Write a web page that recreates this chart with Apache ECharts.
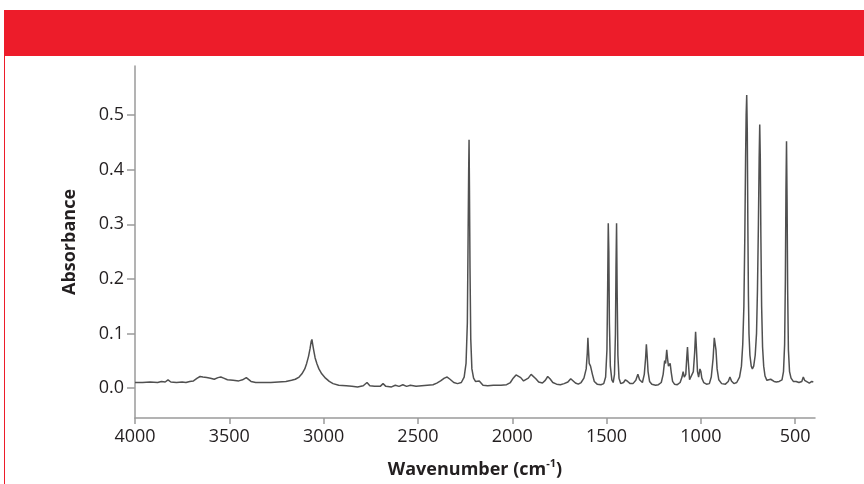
<!DOCTYPE html>
<html>
<head>
<meta charset="utf-8">
<script src="https://cdn.jsdelivr.net/npm/echarts@6/dist/echarts.min.js"></script>
<style>
html,body{margin:0;padding:0;background:#fff;}
#chart{width:864px;height:484px;}
</style>
</head>
<body>
<div id="chart"></div>
<script>
// Wavenumbers (cm-1)
const wavenumbers = [
 4000,3960,3920,3880,3860,3840,3825,3810,3780,3750,3730,3710,3690,3670,3655,3640,3620,3600,3580,3560,3545,3530,3510,3480,3450,3430,3410,3400,3385,3360,3320,3280,3240,3200,3170,3150,3130,3115,3100,3090,3080,3072,3066,3062,3058,3052,3045,3035,3025,3010,2990,2970,2950,2920,2880,2850,2820,2790,2770,2755,2730,2700,2685,2670,2640,2620,2600,2580,2560,2540,2510,2480,2450,2420,2400,2380,2360,2345,2330,2310,2290,2270,2255,2245,2238,2234,2231,2229,2227,2224,2220,2214,2205,2195,2185,2175,2168,2155,2130,2100,2060,2030,2010,1995,1980,1970,1955,1940,1930,1915,1900,1890,1875,1860,1840,1825,1812,1800,1785,1765,1745,1725,1705,1690,1680,1665,1650,1635,1620,1608,1602,1599,1596,1592,1585,1580,1575,1565,1550,1530,1515,1505,1498,1494,1491,1488,1485,1480,1472,1465,1458,1453,1450,1447,1444,1440,1434,1425,1410,1400,1388,1375,1360,1345,1334,1325,1310,1300,1293,1289,1285,1280,1272,1260,1240,1225,1210,1200,1192,1187,1181,1177,1172,1163,1157,1150,1140,1125,1110,1100,1094,1088,1080,1075,1071,1067,1060,1050,1040,1033,1028,1024,1018,1012,1005,1000,995,985,970,955,945,935,929,925,920,914,905,890,870,855,846,838,825,810,795,785,778,772,767,763,760,757,754,751,748,745,740,733,727,720,712,705,700,695,691,688,685,682,678,673,667,660,650,640,630,622,612,600,585,570,562,556,552,549,546,543,540,536,530,522,510,495,480,465,457,450,440,425,412,404
];
// Absorbance values at those wavenumbers
const absorbances = [
 0.010,0.010,0.011,0.010,0.012,0.011,0.015,0.011,0.010,0.011,0.010,0.012,0.013,0.018,0.021,0.020,0.019,0.018,0.016,0.019,0.020,0.018,0.015,0.014,0.013,0.015,0.019,0.018,0.012,0.010,0.010,0.010,0.011,0.012,0.014,0.016,0.020,0.026,0.035,0.045,0.058,0.072,0.085,0.089,0.080,0.068,0.055,0.044,0.035,0.026,0.018,0.012,0.008,0.005,0.004,0.003,0.002,0.004,0.010,0.004,0.003,0.003,0.008,0.003,0.002,0.005,0.003,0.006,0.003,0.005,0.003,0.004,0.005,0.006,0.009,0.013,0.018,0.020,0.016,0.010,0.008,0.010,0.020,0.045,0.120,0.280,0.400,0.455,0.370,0.220,0.090,0.035,0.018,0.012,0.009,0.013,0.010,0.005,0.004,0.005,0.005,0.006,0.010,0.018,0.024,0.025,0.019,0.013,0.012,0.018,0.025,0.024,0.017,0.011,0.009,0.014,0.021,0.017,0.010,0.007,0.006,0.008,0.011,0.017,0.016,0.009,0.007,0.010,0.018,0.035,0.065,0.092,0.070,0.045,0.040,0.038,0.025,0.012,0.007,0.006,0.008,0.020,0.070,0.190,0.302,0.250,0.120,0.040,0.015,0.010,0.025,0.100,0.220,0.302,0.180,0.060,0.018,0.008,0.010,0.015,0.012,0.008,0.008,0.014,0.025,0.015,0.010,0.025,0.055,0.080,0.060,0.030,0.012,0.007,0.005,0.006,0.010,0.025,0.050,0.045,0.070,0.055,0.040,0.045,0.028,0.012,0.007,0.006,0.010,0.020,0.030,0.020,0.025,0.055,0.075,0.050,0.015,0.012,0.030,0.065,0.103,0.075,0.030,0.020,0.035,0.030,0.018,0.010,0.007,0.008,0.020,0.055,0.092,0.093,0.070,0.035,0.015,0.008,0.007,0.012,0.020,0.013,0.008,0.010,0.020,0.040,0.080,0.150,0.280,0.420,0.500,0.537,0.470,0.300,0.170,0.100,0.060,0.040,0.035,0.040,0.060,0.100,0.180,0.300,0.420,0.483,0.420,0.280,0.150,0.075,0.040,0.022,0.014,0.012,0.016,0.018,0.012,0.011,0.012,0.015,0.030,0.080,0.200,0.360,0.452,0.340,0.180,0.070,0.030,0.018,0.012,0.012,0.010,0.012,0.020,0.014,0.011,0.009,0.012,0.011
];
const xTicks = [4000,3500,3000,2500,2000,1500,1000,500];
const yTicks = [0.0,0.1,0.2,0.3,0.4,0.5];

const seriesData = wavenumbers.map((w, i) => [w, absorbances[i]]);

const chart = echarts.init(document.getElementById('chart'), null, {renderer: 'canvas'});
const axisGrey = '#9a9a9a';
const textCol = '#231f20';
const fontFam = '"Open Sans", "Noto Sans", sans-serif';

chart.setOption({
  animation: false,
  backgroundColor: '#ffffff',
  graphic: [
    {type: 'rect', left: 4, top: 10, shape: {width: 860, height: 46}, style: {fill: '#ED1C2A'}, silent: true},
    {type: 'rect', left: 4, top: 56, shape: {width: 1, height: 428}, style: {fill: '#ED1C2A'}, silent: true}
  ],
  grid: {left: 135, right: 49, top: 66, bottom: 64, containLabel: false},
  xAxis: {
    type: 'value',
    inverse: true,
    min: 395,
    max: 4000,
    name: '{a|Wavenumber (cm}{s|-1}{a|)}',
    nameLocation: 'middle',
    nameGap: 40,
    nameTextStyle: {
      rich: {
        a: {fontFamily: fontFam, fontWeight: 'bold', fontSize: 18, color: textCol, lineHeight: 24},
        s: {fontFamily: fontFam, fontWeight: 'bold', fontSize: 11, color: textCol, lineHeight: 24, verticalAlign: 'top', padding: [0,0,9,0]}
      }
    },
    axisLine: {onZero: false, lineStyle: {color: axisGrey, width: 1.5}},
    axisTick: {show: true, length: 6, lineStyle: {color: axisGrey, width: 1.5}, customValues: xTicks},
    axisLabel: {customValues: xTicks, fontFamily: fontFam, fontSize: 18, color: textCol, margin: 10,
      formatter: v => String(v)},
    splitLine: {show: false}
  },
  yAxis: {
    type: 'value',
    min: -0.055,
    max: 0.59,
    name: 'Absorbance',
    nameLocation: 'middle',
    nameGap: 56,
    nameTextStyle: {fontFamily: fontFam, fontWeight: 'bold', fontSize: 18, color: textCol},
    axisLine: {show: true, onZero: false, lineStyle: {color: axisGrey, width: 1.5}},
    axisTick: {show: true, length: 8, lineStyle: {color: axisGrey, width: 1.5}, customValues: yTicks},
    axisLabel: {customValues: yTicks, fontFamily: fontFam, fontSize: 18, color: textCol, margin: 11,
      formatter: v => v.toFixed(1)},
    splitLine: {show: false}
  },
  series: [{
    type: 'line',
    data: seriesData,
    showSymbol: false,
    symbol: 'none',
    smooth: false,
    lineStyle: {color: '#505050', width: 1.5},
    z: 3
  }]
});
</script>
</body>
</html>
